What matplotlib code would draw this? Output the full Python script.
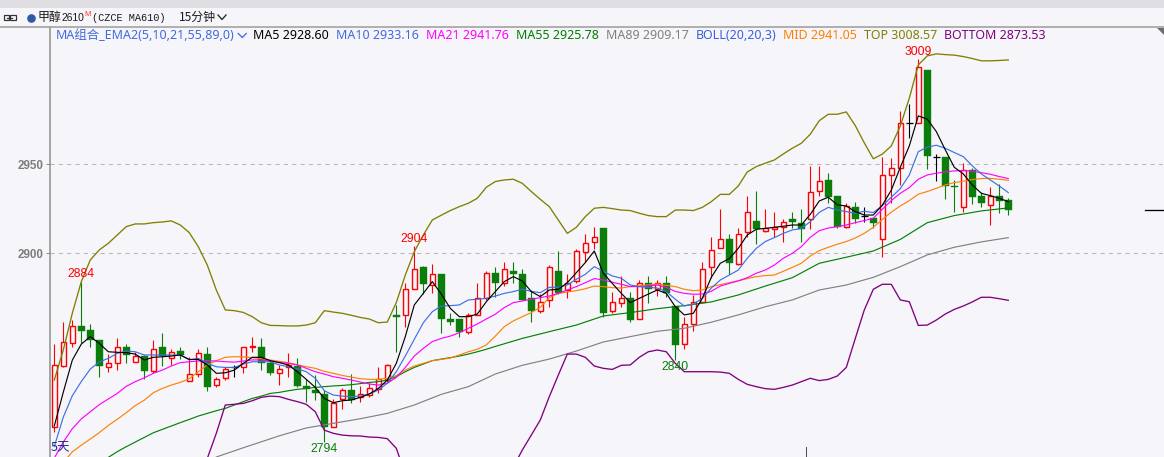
import numpy as np
import matplotlib
matplotlib.use("Agg")
import matplotlib.pyplot as plt
from matplotlib.patches import Rectangle, Polygon
from matplotlib.lines import Line2D
import matplotlib.transforms as mtransforms

# ---------------- data ----------------
opens = [2802.2, 2836.9, 2849.8, 2859.2, 2856.9, 2851.3, 2835.9, 2838.2, 2847.6, 2838.8,
         2842.3, 2834.1, 2847.2, 2841.0, 2844.9, 2828.1, 2832.2, 2843.4, 2825.8, 2829.8,
         2835.9, 2835.9, 2847.2, 2847.2, 2838.2, 2832.9, 2835.9, 2836.7, 2825.5, 2823.2,
         2820.8, 2802.6, 2818.0, 2823.2, 2819.1, 2820.4, 2823.6, 2828.8, 2865.4, 2865.2,
         2879.8, 2892.5, 2882.4, 2888.4, 2862.9, 2862.9, 2856.0, 2865.2, 2874.7, 2888.8,
         2883.1, 2889.9, 2888.4, 2874.7, 2867.8, 2873.8, 2889.9, 2879.4, 2884.6, 2900.9,
         2906.6, 2914.0, 2867.8, 2871.9, 2874.7, 2862.9, 2883.5, 2879.8, 2883.1, 2870.4,
         2849.1, 2860.3, 2872.8, 2892.1, 2902.8, 2907.9, 2893.8, 2912.0, 2918.2, 2912.7,
         2913.9, 2914.6, 2919.1, 2916.9, 2919.1, 2934.8, 2941.2, 2932.2, 2914.6, 2925.8,
         2921.0, 2919.7, 2907.9, 2944.0, 2947.8, 2973.0, 2973.0, 3003.0, 2953.9, 2954.3,
         2937.8, 2925.8, 2946.8, 2932.2, 2927.0, 2932.2, 2930.0]
highs = [2848.9, 2861.6, 2862.5, 2884.0, 2860.3, 2851.3, 2843.4, 2852.2, 2849.1, 2844.7,
         2842.9, 2851.3, 2855.4, 2846.1, 2847.2, 2841.6, 2846.1, 2847.2, 2830.7, 2836.3,
         2837.3, 2847.2, 2852.8, 2852.2, 2840.1, 2837.3, 2843.8, 2841.0, 2829.2, 2831.6,
         2823.2, 2818.0, 2824.1, 2832.2, 2825.5, 2827.3, 2835.9, 2838.0, 2871.0, 2883.1,
         2904.0, 2892.9, 2894.0, 2888.4, 2866.3, 2862.9, 2866.7, 2883.1, 2890.3, 2892.2,
         2895.1, 2895.1, 2891.4, 2879.4, 2877.1, 2893.4, 2901.5, 2888.4, 2902.2, 2910.9,
         2914.6, 2914.0, 2878.5, 2887.3, 2878.5, 2885.0, 2887.3, 2885.0, 2887.3, 2870.4,
         2864.4, 2876.6, 2895.3, 2909.0, 2924.7, 2910.9, 2914.0, 2932.2, 2935.0, 2924.7,
         2923.4, 2919.1, 2923.4, 2924.7, 2949.1, 2949.1, 2945.3, 2932.2, 2928.5, 2929.0,
         2925.8, 2919.7, 2954.3, 2953.4, 2980.2, 2983.9, 3009.0, 3003.0, 2955.8, 2954.3,
         2941.2, 2950.6, 2947.8, 2934.7, 2937.1, 2939.0, 2930.9]
lows = [2799.8, 2836.0, 2847.6, 2849.4, 2847.2, 2830.7, 2833.5, 2834.4, 2838.2, 2838.8,
        2829.2, 2832.6, 2836.7, 2837.3, 2840.4, 2828.1, 2830.7, 2822.8, 2824.7, 2828.8,
        2830.7, 2833.0, 2844.7, 2834.4, 2831.6, 2826.0, 2830.7, 2825.1, 2816.7, 2817.6,
        2794.0, 2802.2, 2812.3, 2816.1, 2816.7, 2819.1, 2821.3, 2827.9, 2844.7, 2858.8,
        2879.8, 2877.1, 2877.9, 2855.0, 2859.7, 2853.2, 2854.7, 2865.2, 2873.8, 2875.7,
        2881.6, 2883.1, 2873.8, 2861.6, 2866.3, 2870.0, 2877.1, 2874.7, 2883.5, 2895.3,
        2902.2, 2864.4, 2866.3, 2870.0, 2861.6, 2862.9, 2871.9, 2876.0, 2875.7, 2840.0,
        2846.1, 2856.5, 2872.8, 2886.0, 2902.8, 2888.4, 2893.4, 2909.0, 2905.2, 2912.2,
        2909.0, 2906.6, 2914.0, 2906.6, 2913.5, 2932.2, 2928.5, 2914.0, 2914.0, 2916.9,
        2917.8, 2914.0, 2897.8, 2928.1, 2938.4, 2964.6, 2973.0, 2947.2, 2940.8, 2930.3,
        2923.4, 2923.4, 2927.7, 2925.8, 2915.7, 2922.9, 2921.5]
closes = [2837.3, 2850.0, 2859.2, 2856.5, 2851.3, 2836.7, 2838.2, 2847.6, 2842.9, 2842.3,
          2834.1, 2846.1, 2842.3, 2844.7, 2843.1, 2832.2, 2843.8, 2825.1, 2829.2, 2834.8,
          2835.9, 2847.2, 2847.9, 2838.2, 2832.9, 2834.8, 2837.3, 2825.5, 2824.0, 2821.7,
          2802.2, 2816.1, 2823.2, 2817.6, 2820.8, 2824.1, 2829.6, 2837.1, 2864.0, 2879.8,
          2891.2, 2882.8, 2888.2, 2862.9, 2861.6, 2856.0, 2865.2, 2874.7, 2888.8, 2883.1,
          2891.0, 2888.4, 2873.8, 2867.8, 2872.8, 2892.1, 2877.9, 2883.5, 2901.3, 2905.6,
          2909.0, 2866.3, 2872.8, 2874.7, 2862.5, 2883.5, 2879.8, 2883.1, 2877.9, 2848.5,
          2860.3, 2872.8, 2891.0, 2901.9, 2907.9, 2894.8, 2910.7, 2923.4, 2913.9, 2914.4,
          2915.0, 2917.8, 2917.6, 2913.9, 2934.7, 2940.8, 2931.8, 2915.0, 2926.6, 2919.1,
          2921.0, 2916.9, 2944.0, 2947.8, 2973.0, 2973.0, 3004.5, 2954.7, 2953.9, 2937.8,
          2937.1, 2946.8, 2931.8, 2928.1, 2932.2, 2929.6, 2924.3]

ma5 = [2803, 2822, 2840, 2849, 2853.2, 2849.4, 2844.7, 2844.4, 2844.2, 2843.4,
       2840.1, 2841.6, 2841.9, 2842.3, 2842.9, 2840.4, 2840.4, 2837.3, 2832.6, 2832.9,
       2834.4, 2838.2, 2841.6, 2841.6, 2839.7, 2838.6, 2837.3, 2833.5, 2829.2, 2824.7,
       2818.5, 2816.1, 2817.2, 2817.6, 2819.1, 2821.0, 2824.1, 2828.8, 2838.2, 2853.2,
       2871.0, 2877.5, 2884.1, 2877.1, 2869.1, 2864.4, 2864.4, 2865.9, 2872.8, 2878.5,
       2884.1, 2886.9, 2884.5, 2878.5, 2875.7, 2879.4, 2879.8, 2883.5, 2889.1, 2894.8,
       2901.3, 2888.8, 2883.1, 2877.5, 2872.3, 2874.7, 2877.1, 2879.4, 2877.5, 2870.0,
       2865.4, 2866.3, 2874.7, 2886.5, 2894.4, 2897.0, 2902.8, 2910.3, 2913.5, 2914.0,
       2914.6, 2915.2, 2915.9, 2915.9, 2921.9, 2929.4, 2931.5, 2927.2, 2926.6, 2923.4,
       2921.5, 2921.5, 2927.0, 2935.5, 2948.3, 2960.3, 2977.2, 2975.3, 2968.4, 2958.1,
       2948.3, 2944.6, 2938.4, 2933.7, 2932.4, 2930.9, 2929.0]
ma10 = [2791.5, 2808, 2820, 2828, 2835, 2839, 2841, 2843.8, 2845.1, 2844.7,
        2842.9, 2842.9, 2842.9, 2842.9, 2842.9, 2840.1, 2841.0, 2838.2, 2836.3, 2835.9,
        2835.9, 2837.8, 2839.1, 2839.1, 2839.1, 2837.3, 2836.3, 2835.2, 2833.5, 2829.8,
        2822.8, 2820.4, 2819.8, 2819.5, 2819.8, 2821.0, 2823.2, 2827.0, 2833.5, 2842.3,
        2851.7, 2861.0, 2867.2, 2870.4, 2870.6, 2871.0, 2873.8, 2874.2, 2874.7, 2876.0,
        2877.5, 2878.5, 2879.8, 2878.6, 2877.9, 2880.9, 2880.9, 2882.2, 2885.4, 2888.2,
        2892.5, 2889.9, 2887.3, 2886.0, 2882.2, 2881.3, 2880.9, 2880.5, 2878.5, 2874.2,
        2870.4, 2871.5, 2874.7, 2880.5, 2885.0, 2887.8, 2890.6, 2897.2, 2902.8, 2906.6,
        2908.8, 2911.2, 2913.1, 2913.9, 2917.8, 2923.0, 2925.8, 2924.3, 2923.4, 2922.5,
        2923.6, 2922.9, 2926.8, 2931.5, 2936.3, 2944.0, 2957.1, 2959.6, 2960.7, 2959.0,
        2956.6, 2954.3, 2949.1, 2944.6, 2941.2, 2937.8, 2934.1]
ma21 = [2785, 2794, 2801.5, 2807, 2811, 2815, 2818.2, 2821.3, 2825.3, 2827.9,
        2830.1, 2832.6, 2834.4, 2836.7, 2838.6, 2839.1, 2839.5, 2839.7, 2839.5, 2839.1,
        2838.9, 2839.5, 2840.1, 2840.1, 2839.5, 2838.8, 2838.2, 2837.3, 2835.4, 2833.5,
        2832.2, 2830.7, 2829.8, 2828.8, 2827.7, 2826.6, 2826.0, 2827.0, 2830.3, 2835.9,
        2842.3, 2846.6, 2850.4, 2852.2, 2853.5, 2855.4, 2857.9, 2860.3, 2863.1, 2865.8,
        2869.5, 2872.3, 2873.2, 2874.2, 2875.1, 2876.0, 2877.5, 2879.4, 2881.3, 2883.5,
        2885.8, 2885.0, 2883.7, 2882.6, 2881.3, 2881.3, 2881.6, 2882.2, 2880.9, 2878.6,
        2877.5, 2877.0, 2877.1, 2878.7, 2881.6, 2883.1, 2884.5, 2886.3, 2888.8, 2890.6,
        2893.4, 2897.2, 2900.0, 2903.7, 2909.0, 2912.7, 2914.2, 2915.0, 2915.9, 2917.2,
        2918.4, 2919.7, 2924.7, 2929.6, 2933.7, 2936.9, 2941.6, 2944.0, 2945.0, 2945.7,
        2946.3, 2946.5, 2946.1, 2945.3, 2944.4, 2943.1, 2942.0]
boll_mid = [2778, 2782.5, 2788.5, 2792.2, 2795.7, 2799.3, 2803.3, 2806.8, 2810.5, 2814.5,
            2817.5, 2821.7, 2824.1, 2826.0, 2827.5, 2829.6, 2833.5, 2837.3, 2839.7, 2841.6,
            2841.9, 2841.8, 2841.4, 2840.8, 2840.1, 2839.3, 2838.6, 2837.4, 2836.3, 2835.4,
            2833.7, 2832.6, 2831.4, 2830.5, 2829.6, 2829.2, 2829.2, 2829.8, 2831.3, 2834.4,
            2836.7, 2838.2, 2839.7, 2840.4, 2841.2, 2842.9, 2844.7, 2846.1, 2848.5, 2853.5,
            2858.8, 2862.0, 2864.4, 2866.7, 2869.7, 2875.1, 2877.5, 2878.3, 2879.0, 2880.1,
            2881.6, 2881.3, 2880.7, 2880.5, 2881.3, 2881.8, 2882.2, 2882.8, 2882.0, 2881.3,
            2879.8, 2879.0, 2879.4, 2881.3, 2882.4, 2883.5, 2884.6, 2885.8, 2886.9, 2887.5,
            2887.8, 2889.9, 2892.1, 2894.4, 2898.5, 2901.5, 2903.4, 2905.1, 2906.6, 2908.6,
            2911.2, 2914.6, 2919.0, 2923.1, 2926.6, 2929.6, 2933.2, 2934.7, 2936.5, 2938.4,
            2939.7, 2940.5, 2941.4, 2942.0, 2942.1, 2941.6, 2941.0]
boll_top = [2828.8, 2845.7, 2866.3, 2884.1, 2896.3, 2901.9, 2905.6, 2910.3, 2915.0, 2916.5,
            2916.5, 2917.2, 2917.6, 2918.2, 2915.9, 2911.6, 2903.7, 2893.4, 2879.4, 2868.2,
            2867.8, 2866.8, 2864.4, 2861.0, 2859.5, 2859.4, 2859.2, 2859.2, 2859.7, 2861.0,
            2867.8, 2867.0, 2866.3, 2865.2, 2864.0, 2863.1, 2861.0, 2861.4, 2872.3, 2887.8,
            2900.9, 2910.3, 2918.7, 2921.4, 2924.0, 2926.2, 2928.1, 2930.9, 2937.1, 2940.3,
            2941.2, 2941.6, 2939.3, 2934.7, 2930.3, 2926.2, 2918.7, 2911.2, 2914.6, 2920.6,
            2925.3, 2925.8, 2925.1, 2924.3, 2924.0, 2922.5, 2921.2, 2920.6, 2920.6, 2924.3,
            2924.3, 2924.0, 2925.8, 2929.0, 2933.1, 2933.1, 2937.8, 2945.7, 2948.7, 2950.6,
            2952.4, 2955.8, 2959.0, 2961.8, 2966.9, 2974.5, 2978.1, 2978.1, 2979.4, 2971.7,
            2962.0, 2953.1, 2955.7, 2960.3, 2971.5, 2987.1, 3005.8, 3010.9, 3012.0, 3011.6,
            3011.3, 3010.5, 3009.4, 3008.1, 3008.1, 3008.3, 3008.6]

ma55_idx = list(range(6, 50)) + list(range(52, 107, 3))
ma55 = [2785.4, 2788.6, 2791.4, 2794.0, 2796.6, 2799.2, 2801.1, 2803.0, 2804.9, 2806.7,
        2808.6, 2810.1, 2811.6, 2812.9, 2814.8, 2816.7, 2818.5, 2819.8, 2821.3, 2821.9,
        2822.8, 2823.6, 2824.1, 2824.7, 2825.1, 2825.5, 2825.8, 2826.2, 2826.8, 2827.5,
        2827.9, 2828.8, 2830.7, 2833.5, 2835.9, 2837.8, 2839.7, 2840.6, 2841.4, 2842.3,
        2843.4, 2844.7, 2846.1, 2847.7,
        2852.2, 2856.0, 2859.7, 2864.8, 2866.7, 2868.9, 2870.6, 2872.7, 2876.6, 2881.6,
        2886.3, 2894.4, 2897.8, 2901.3, 2907.8, 2917.2, 2921.2, 2923.8, 2925.5]
ma89_idx = [18, 21, 24] + list(range(25, 107, 3))
ma89 = [2785.6, 2790.8, 2795.8, 2797.5, 2801.9, 2804.5, 2807.1, 2810.1, 2814.8, 2820.8,
        2825.1, 2832.2, 2837.1, 2840.6, 2845.1, 2850.2, 2853.2, 2856.2, 2857.9, 2861.3,
        2865.4, 2870.0, 2873.8, 2879.4, 2882.2, 2886.5, 2892.5, 2899.1, 2903.4, 2906.4,
        2908.8]
nan = float('nan')
boll_bot_idx = list(range(16, 107))
boll_bot = [2770, 2784.8, 2798.9, 2814.8, 2815.2, 2815.7, 2817.2, 2819.1, 2819.8, 2819.5,
            2818.0, 2816.7, 2815.2, 2811.0, 2800.7, 2798.9, 2797.9, 2797.5, 2797.4, 2796.8,
            2796.6, 2795.9, 2790.5, 2776.0, nan, nan, nan, nan, nan, nan,
            nan, nan, nan, nan, nan, 2780.0, 2789.5, 2797.9, 2806.4, 2819.5,
            2831.6, 2843.4, 2843.4, 2841.6, 2836.7, 2835.4, 2834.8, 2837.1, 2837.3, 2841.6,
            2844.7, 2845.7, 2844.7, 2838.2, 2833.5, 2833.5, 2833.5, 2833.5, 2833.3, 2832.6,
            2829.2, 2826.4, 2825.1, 2824.0, 2823.6, 2824.7, 2826.0, 2827.9, 2829.8, 2828.5,
            2829.2, 2831.1, 2835.9, 2852.2, 2868.2, 2879.8, 2882.6, 2882.6, 2873.8, 2872.8,
            2859.5, 2859.7, 2862.5, 2865.9, 2868.5, 2870.4, 2872.7, 2875.3, 2875.3, 2874.5,
            2873.6]

yticks = [2900, 2950]
high_marks = [3, 40, 96]
low_marks = [30, 69]
day_breaks = [83.5]

indicator_labels = ["MA组合_EMA2(5,10,21,55,89,0)", "MA5 2928.60", "MA10 2933.16",
                    "MA21 2941.76", "MA55 2925.78", "MA89 2909.17", "BOLL(20,20,3)",
                    "MID 2941.05", "TOP 3008.57", "BOTTOM 2873.53"]
indicator_colors = ['#4169e1', '#000000', '#4169e1', '#ff00ff', '#008000', '#808080',
                    '#3a5fe0', '#ff8000', '#808000', '#800080']

# ---------------- figure ----------------
W, H, DPI = 1164, 457, 100
BG = '#f5f5fa'
fig = plt.figure(figsize=(W / DPI, H / DPI), dpi=DPI, facecolor=BG)


def fx(p):
    return p / W


def fy(p):
    return 1 - p / H


PX = 72.0 / DPI  # points per pixel

ax = fig.add_axes([fx(50), 0, (W - 50) / W, (H - 27) / H])
ax.set_facecolor(BG)
ax.set_xlim((50 - 54.3) / 9, (W - 54.3) / 9)
ax.set_ylim(2785.6, 3027.1)

RED = '#ff0000'
GREEN = '#0a7d0a'

# grid
for t in yticks:
    ax.axhline(t, color='#b8b8b8', lw=0.75, dashes=(4, 4), zorder=0.5)

# candles
for i, (o, h, l, c) in enumerate(zip(opens, highs, lows, closes)):
    if c > o:
        bw = 0.55
        ax.vlines(i, c, h, color=RED, lw=1.1 * PX, zorder=2)
        ax.vlines(i, l, o, color=RED, lw=1.1 * PX, zorder=2)
        ax.add_patch(Rectangle((i - bw / 2, o), bw, c - o, facecolor=BG, edgecolor=RED,
                               lw=1.4 * PX, zorder=2.1))
    elif c < o:
        bw = 0.78
        ax.vlines(i, l, h, color=GREEN, lw=1.1 * PX, zorder=2)
        ax.add_patch(Rectangle((i - bw / 2, c), bw, o - c, facecolor=GREEN, edgecolor=GREEN,
                               lw=0.4 * PX, zorder=2.1))
    else:
        ax.vlines(i, l, h, color='#000000', lw=1.1 * PX, zorder=2)
        ax.hlines(o, i - 0.4, i + 0.4, color='#000000', lw=1.3 * PX, zorder=2)

idx = np.arange(len(closes))
lw = 1.15 * PX
ax.plot(ma89_idx, ma89, color='#808080', lw=lw, zorder=3)
ax.plot(ma55_idx, ma55, color='#008000', lw=lw, zorder=3)
ax.plot(boll_bot_idx, boll_bot, color='#800080', lw=lw * 1.15, zorder=3)
ax.plot(idx, boll_top, color='#808000', lw=lw * 1.15, zorder=3)
ax.plot(idx, boll_mid, color='#ff8000', lw=lw, zorder=3)
ax.plot(idx, ma21, color='#ff00ff', lw=lw, zorder=3)
ax.plot(idx, ma10, color='#3a6fe0', lw=lw, zorder=3)
ax.plot(idx, ma5, color='#000000', lw=lw, zorder=3.1)

# high / low marks
for i in high_marks:
    ax.annotate(f"{highs[i]:.0f}", (i, highs[i]), xytext=(0, 7.5 * PX),
                textcoords='offset points', ha='center', va='center',
                color=RED, fontsize=8.8, family='Liberation Sans', zorder=5)
for i in low_marks:
    ax.annotate(f"{lows[i]:.0f}", (i, lows[i]), xytext=(0, -7.3 * PX),
                textcoords='offset points', ha='center', va='center',
                color='#0a7d0a', fontsize=8.8, family='Liberation Sans', zorder=5)

# day separator ticks at the bottom
bt = mtransforms.blended_transform_factory(ax.transData, ax.transAxes)
for d in day_breaks:
    ax.plot([d, d], [0, 10 / 430], color='#505050', lw=1.0 * PX, transform=bt, zorder=5)

# last price marker at right edge
ax.plot([(1145 - 50) / (W - 50), 1.0], [closes[-1], closes[-1]], color='#000000',
        lw=1.3 * PX, transform=mtransforms.blended_transform_factory(ax.transAxes, ax.transData),
        zorder=5, clip_on=False)

ax.text((51 - 50) / (W - 50), 1 - (447.5 - 27) / 430, "5天", transform=ax.transAxes,
        ha='left', va='center', color='#1f2a8a', fontsize=9,
        family=['Noto Sans CJK SC', 'DejaVu Sans'], zorder=6)

# axes styling
for s in ['top', 'right', 'bottom']:
    ax.spines[s].set_visible(False)
ax.spines['left'].set_color('#8c8c8c')
ax.spines['left'].set_linewidth(1.5 * PX)
ax.set_xticks([])
ax.set_yticks(yticks)
ax.set_yticklabels([str(t) for t in yticks])
ax.tick_params(axis='y', length=3 * PX * 1.4, width=1 * PX, color='#8c8c8c', pad=1.5,
               labelsize=8.4, labelcolor='#7d7d7d')
for lab in ax.get_yticklabels():
    lab.set_fontweight('bold')
    lab.set_family('Liberation Sans')

# ---------------- header ----------------
fig.patches.append(Rectangle((0, fy(8)), 1, 8 / H, transform=fig.transFigure,
                             facecolor='#dedee3', edgecolor='none', zorder=0))
fig.lines.append(Line2D([0, 1], [fy(27.3), fy(27.3)], transform=fig.transFigure,
                        color='#a0a0a0', lw=1.6 * PX))
fig.patches.append(Polygon([[fx(1157), fy(28)], [fx(1164), fy(28)], [fx(1164), fy(35)]],
                           closed=True, transform=fig.transFigure, facecolor='#6e6e6e',
                           edgecolor='none'))

# link icon
for x0 in (3.5, 10.5):
    fig.patches.append(Rectangle((fx(x0), fy(20)), 5.5 / W, 5 / H, transform=fig.transFigure,
                                 facecolor='none', edgecolor='#333333', lw=1.2 * PX))
fig.lines.append(Line2D([fx(7), fx(12)], [fy(17.5), fy(17.5)], transform=fig.transFigure,
                        color='#333333', lw=1.2 * PX))
fig.lines.append(Line2D([fx(31)], [fy(17.5)], marker='o', markersize=5.2, color='#2f5aa8',
                        transform=fig.transFigure))

cjk = ['Noto Sans CJK SC', 'DejaVu Sans']
fig.text(fx(37.5), fy(17.5), "甲醇", family=cjk, fontsize=8.6, va='center', ha='left',
         color='#1a1a1a')
fig.text(fx(61), fy(18.3), "2610", family='Liberation Sans', fontsize=7.4, va='center',
         ha='left', color='#1a1a1a')
fig.text(fx(84.5), fy(14.5), "M", family='Liberation Sans', fontsize=5.6, va='center',
         ha='left', color='#ff3030')
fig.text(fx(92), fy(18), "(CZCE MA610)", family='Liberation Mono', fontsize=7.4,
         va='center', ha='left', color='#1a1a1a')
fig.text(fx(178.5), fy(17.5), "15分钟", family=cjk, fontsize=8.6, va='center', ha='left',
         color='#1a1a1a')
fig.lines.append(Line2D([fx(218), fx(222), fx(226)], [fy(15), fy(19.5), fy(15)],
                        transform=fig.transFigure, color='#222222', lw=1.3 * PX))

# indicator row (sequential layout)
renderer = fig.canvas.get_renderer()
ind_font = ['Noto Sans', 'Noto Sans CJK SC']
probe = fig.text(0, 0, indicator_labels[0], family=ind_font, fontsize=10)
wprobe = probe.get_window_extent(renderer=renderer).width
probe.remove()
ind_size = 10 * 178.0 / wprobe
xcur = 55.5
ycen = fy(35.5)
for k, (lab, col) in enumerate(zip(indicator_labels, indicator_colors)):
    t = fig.text(fx(xcur), ycen, lab, family=ind_font, fontsize=ind_size, va='center',
                 ha='left', color=col)
    bb = t.get_window_extent(renderer=renderer)
    xend = bb.x1
    if k == 0:
        fig.lines.append(Line2D([fx(xend + 4), fx(xend + 8), fx(xend + 12)],
                                [fy(33.5), fy(37.5), fy(33.5)], transform=fig.transFigure,
                                color=col, lw=1.3 * PX))
        xend += 12
    xcur = xend + 7.0

fig.savefig("out.png", dpi=DPI, facecolor=BG)
